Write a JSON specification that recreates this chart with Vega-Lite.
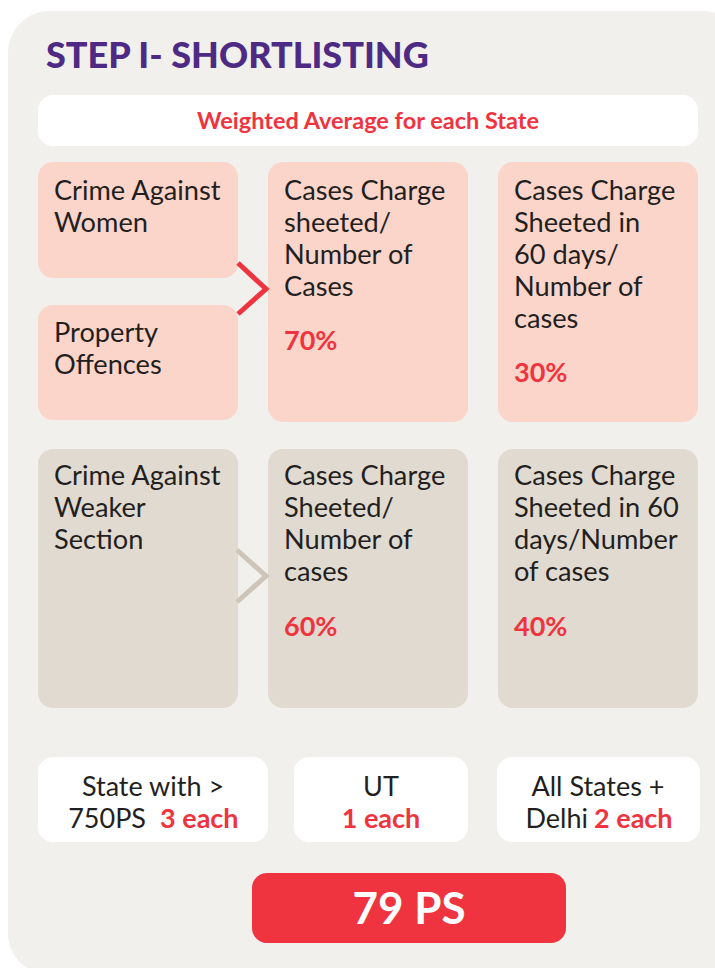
{
  "$schema": "https://vega.github.io/schema/vega-lite/v6.json",
  "width": 715,
  "height": 968,
  "padding": 0,
  "autosize": "none",
  "background": "#ffffff",
  "config": {"view": {"stroke": null}, "axis": {"disable": true}},
  "datasets": {
    "boxes": [
      {"part": "panel", "id": "panel", "x": 8, "x2": 745, "y": 11, "y2": 975},
      {"part": "white", "id": "header", "x": 38, "x2": 698, "y": 95, "y2": 146},
      {"part": "white", "id": "b1", "x": 38, "x2": 268, "y": 757, "y2": 842},
      {"part": "white", "id": "b2", "x": 294, "x2": 468, "y": 757, "y2": 842},
      {"part": "white", "id": "b3", "x": 497, "x2": 700, "y": 757, "y2": 842},
      {"part": "pink", "id": "A", "x": 38, "x2": 238, "y": 162, "y2": 278},
      {"part": "pink", "id": "B", "x": 38, "x2": 238, "y": 305, "y2": 420},
      {"part": "pink", "id": "C", "x": 268, "x2": 468, "y": 162, "y2": 422},
      {"part": "pink", "id": "D", "x": 498, "x2": 698, "y": 162, "y2": 422},
      {"part": "beige", "id": "E", "x": 38, "x2": 238, "y": 449, "y2": 708},
      {"part": "beige", "id": "F", "x": 268, "x2": 468, "y": 449, "y2": 708},
      {"part": "beige", "id": "G", "x": 498, "x2": 698, "y": 449, "y2": 708},
      {"part": "red", "id": "total", "x": 252, "x2": 566, "y": 873, "y2": 943}
    ],
    "chevrons": [
      {"part": "red", "seq": 1, "x": 238, "y": 263},
      {"part": "red", "seq": 2, "x": 266, "y": 289},
      {"part": "red", "seq": 3, "x": 238, "y": 314},
      {"part": "beige", "seq": 1, "x": 237, "y": 550},
      {"part": "beige", "seq": 2, "x": 266, "y": 576},
      {"part": "beige", "seq": 3, "x": 237, "y": 602}
    ],
    "texts": [
      {"part": "title", "label": "STEP I- SHORTLISTING", "x": 46, "y": 68},
      {"part": "header", "label": "Weighted Average for each State", "x": 368, "y": 129},
      {"part": "body", "label": "Crime Against\nWomen", "x": 54, "y": 200},
      {"part": "body", "label": "Property\nOffences", "x": 54, "y": 342},
      {"part": "body", "label": "Cases Charge\nsheeted/\nNumber of\nCases", "x": 284, "y": 200},
      {"part": "body", "label": "Cases Charge\nSheeted in\n60 days/\nNumber of\ncases", "x": 514, "y": 200},
      {"part": "body", "label": "Crime Against\nWeaker\nSection", "x": 54, "y": 485},
      {"part": "body", "label": "Cases Charge\nSheeted/\nNumber of\ncases", "x": 284, "y": 485},
      {"part": "body", "label": "Cases Charge\nSheeted in 60\ndays/Number\nof cases", "x": 514, "y": 485},
      {"part": "pct", "label": "70%", "x": 284, "y": 350},
      {"part": "pct", "label": "30%", "x": 514, "y": 382},
      {"part": "pct", "label": "60%", "x": 284, "y": 636},
      {"part": "pct", "label": "40%", "x": 514, "y": 636},
      {"part": "center", "label": "State with >", "x": 153, "y": 796},
      {"part": "right", "label": "750PS", "x": 146, "y": 828},
      {"part": "redleft", "label": "3 each", "x": 160, "y": 828},
      {"part": "center", "label": "UT", "x": 381, "y": 796},
      {"part": "redcenter", "label": "1 each", "x": 381, "y": 828},
      {"part": "center", "label": "All States +", "x": 598, "y": 796},
      {"part": "right", "label": "Delhi", "x": 588, "y": 828},
      {"part": "redleft", "label": "2 each", "x": 594, "y": 828},
      {"part": "total", "label": "79 PS", "x": 409, "y": 924}
    ]
  },
  "layer": [
    {
      "data": {"name": "boxes"},
      "transform": [{"filter": "datum.part === 'panel'"}],
      "mark": {"type": "rect", "fill": "#F1F0EC", "cornerRadius": 42, "clip": false},
      "encoding": {
        "x": {"field": "x", "type": "quantitative", "scale": {"domain": [0, 715], "nice": false, "zero": false}, "axis": null},
        "x2": {"field": "x2"},
        "y": {"field": "y", "type": "quantitative", "scale": {"domain": [0, 968], "nice": false, "zero": false, "reverse": true}, "axis": null},
        "y2": {"field": "y2"}
      }
    },
    {
      "data": {"name": "boxes"},
      "transform": [{"filter": "datum.part === 'white'"}],
      "mark": {"type": "rect", "fill": "#ffffff", "cornerRadius": 15},
      "encoding": {
        "x": {"field": "x", "type": "quantitative"},
        "x2": {"field": "x2"},
        "y": {"field": "y", "type": "quantitative"},
        "y2": {"field": "y2"}
      }
    },
    {
      "data": {"name": "boxes"},
      "transform": [{"filter": "datum.part === 'pink'"}],
      "mark": {"type": "rect", "fill": "#FBD5C9", "cornerRadius": 15},
      "encoding": {
        "x": {"field": "x", "type": "quantitative"},
        "x2": {"field": "x2"},
        "y": {"field": "y", "type": "quantitative"},
        "y2": {"field": "y2"}
      }
    },
    {
      "data": {"name": "boxes"},
      "transform": [{"filter": "datum.part === 'beige'"}],
      "mark": {"type": "rect", "fill": "#E1DAD1", "cornerRadius": 15},
      "encoding": {
        "x": {"field": "x", "type": "quantitative"},
        "x2": {"field": "x2"},
        "y": {"field": "y", "type": "quantitative"},
        "y2": {"field": "y2"}
      }
    },
    {
      "data": {"name": "boxes"},
      "transform": [{"filter": "datum.part === 'red'"}],
      "mark": {"type": "rect", "fill": "#EF3440", "cornerRadius": 15},
      "encoding": {
        "x": {"field": "x", "type": "quantitative"},
        "x2": {"field": "x2"},
        "y": {"field": "y", "type": "quantitative"},
        "y2": {"field": "y2"}
      }
    },
    {
      "data": {"name": "chevrons"},
      "transform": [{"filter": "datum.part === 'red'"}],
      "mark": {"type": "line", "stroke": "#EF3440", "strokeWidth": 5, "strokeCap": "butt", "strokeJoin": "miter"},
      "encoding": {
        "x": {"field": "x", "type": "quantitative"},
        "y": {"field": "y", "type": "quantitative"},
        "order": {"field": "seq"}
      }
    },
    {
      "data": {"name": "chevrons"},
      "transform": [{"filter": "datum.part === 'beige'"}],
      "mark": {"type": "line", "stroke": "#CEC4B8", "strokeWidth": 5, "strokeCap": "butt", "strokeJoin": "miter"},
      "encoding": {
        "x": {"field": "x", "type": "quantitative"},
        "y": {"field": "y", "type": "quantitative"},
        "order": {"field": "seq"}
      }
    },
    {
      "data": {"name": "texts"},
      "transform": [{"filter": "datum.part === 'title'"}],
      "mark": {"type": "text", "font": "Lato", "fontWeight": 900, "fontSize": 36, "fill": "#4E2A84", "align": "left", "baseline": "alphabetic"},
      "encoding": {
        "x": {"field": "x", "type": "quantitative"},
        "y": {"field": "y", "type": "quantitative"},
        "text": {"field": "label"}
      }
    },
    {
      "data": {"name": "texts"},
      "transform": [{"filter": "datum.part === 'header'"}],
      "mark": {"type": "text", "font": "Lato", "fontWeight": "bold", "fontSize": 23.5, "fill": "#EF3440", "align": "center", "baseline": "alphabetic"},
      "encoding": {
        "x": {"field": "x", "type": "quantitative"},
        "y": {"field": "y", "type": "quantitative"},
        "text": {"field": "label"}
      }
    },
    {
      "data": {"name": "texts"},
      "transform": [{"filter": "datum.part === 'body'"}],
      "mark": {"type": "text", "font": "Lato", "fontSize": 27.2, "fill": "#231F20", "align": "left", "baseline": "alphabetic", "lineBreak": "\n", "lineHeight": 32},
      "encoding": {
        "x": {"field": "x", "type": "quantitative"},
        "y": {"field": "y", "type": "quantitative"},
        "text": {"field": "label"}
      }
    },
    {
      "data": {"name": "texts"},
      "transform": [{"filter": "datum.part === 'pct'"}],
      "mark": {"type": "text", "font": "Lato", "fontWeight": "bold", "fontSize": 27, "fill": "#EF3440", "align": "left", "baseline": "alphabetic"},
      "encoding": {
        "x": {"field": "x", "type": "quantitative"},
        "y": {"field": "y", "type": "quantitative"},
        "text": {"field": "label"}
      }
    },
    {
      "data": {"name": "texts"},
      "transform": [{"filter": "datum.part === 'center'"}],
      "mark": {"type": "text", "font": "Lato", "fontSize": 27, "fill": "#231F20", "align": "center", "baseline": "alphabetic"},
      "encoding": {
        "x": {"field": "x", "type": "quantitative"},
        "y": {"field": "y", "type": "quantitative"},
        "text": {"field": "label"}
      }
    },
    {
      "data": {"name": "texts"},
      "transform": [{"filter": "datum.part === 'right'"}],
      "mark": {"type": "text", "font": "Lato", "fontSize": 27, "fill": "#231F20", "align": "right", "baseline": "alphabetic"},
      "encoding": {
        "x": {"field": "x", "type": "quantitative"},
        "y": {"field": "y", "type": "quantitative"},
        "text": {"field": "label"}
      }
    },
    {
      "data": {"name": "texts"},
      "transform": [{"filter": "datum.part === 'redleft'"}],
      "mark": {"type": "text", "font": "Lato", "fontWeight": "bold", "fontSize": 27, "fill": "#EF3440", "align": "left", "baseline": "alphabetic"},
      "encoding": {
        "x": {"field": "x", "type": "quantitative"},
        "y": {"field": "y", "type": "quantitative"},
        "text": {"field": "label"}
      }
    },
    {
      "data": {"name": "texts"},
      "transform": [{"filter": "datum.part === 'redcenter'"}],
      "mark": {"type": "text", "font": "Lato", "fontWeight": "bold", "fontSize": 27, "fill": "#EF3440", "align": "center", "baseline": "alphabetic"},
      "encoding": {
        "x": {"field": "x", "type": "quantitative"},
        "y": {"field": "y", "type": "quantitative"},
        "text": {"field": "label"}
      }
    },
    {
      "data": {"name": "texts"},
      "transform": [{"filter": "datum.part === 'total'"}],
      "mark": {"type": "text", "font": "Lato", "fontWeight": "bold", "fontSize": 44, "fill": "#ffffff", "align": "center", "baseline": "alphabetic"},
      "encoding": {
        "x": {"field": "x", "type": "quantitative"},
        "y": {"field": "y", "type": "quantitative"},
        "text": {"field": "label"}
      }
    }
  ]
}
